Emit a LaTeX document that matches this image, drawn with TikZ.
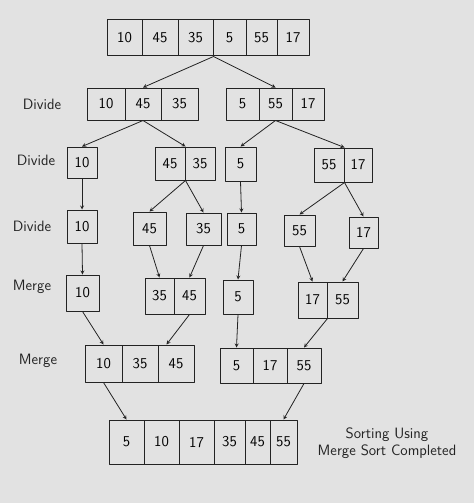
\documentclass[tikz,border=0pt]{standalone}
\usetikzlibrary{calc}
\definecolor{paper}{RGB}{226,226,226}
\definecolor{pen}{RGB}{35,35,35}
\tikzset{
	cell/.style={draw=pen,line width=1pt,inner sep=0pt,font=\fontsize{15}{17}\sffamily},
	lbl/.style={font=\fontsize{15}{17}\sffamily,text=pen},
	arr/.style={->,draw=pen,line width=0.8pt}
}
% one row of cells: name, top, bottom, {left/right/text,...}
\newcommand\cellrow[4]{%
	\foreach \a/\b/\t [count=\i] in {#4}{
		\node[cell,minimum width={(\b-\a)*1pt},minimum height={(#3-#2)*1pt}] (#1-\i) at ({(\a+\b)/2},{(#2+#3)/2}) {\t};
	}
}
\begin{document}
\begin{tikzpicture}[>=stealth,line join=round,line cap=round,x=1pt,y=-1pt]
				\fill[paper] (0,0) rectangle (474,503);
				\useasboundingbox (0,0) rectangle (474,503);
				% whole array
				\cellrow{A0}{20}{56}{107/142/10,142/178/45,178/213/35,213/246/5,246/277/55,277/309/17}
				% divide
				\cellrow{L}{88}{120}{87/125/10,125/161/45,161/198/35}
				\cellrow{R}{88}{120}{226/259/5,259/292/55,292/324/17}
				\cellrow{La}{147}{178}{67/97/10}
				\cellrow{Lb}{147}{180}{155/185/45,185/215/35}
				\cellrow{Ra}{147}{181}{225/256/5}
				\cellrow{Rb}{148}{182}{314/344/55,344/372/17}
				\cellrow{S1}{210}{243}{67/97/10}
				\cellrow{S2}{212}{245}{133/166/45}
				\cellrow{S3}{213}{245}{186/221/35}
				\cellrow{S4}{213}{245}{227/256/5}
				\cellrow{S5}{215}{246}{284/315/55}
				\cellrow{S6}{217}{248}{349/378/17}
				% merge
				\cellrow{M1}{275}{311}{66/99/10}
				\cellrow{M2}{278}{314}{145/174/35,174/205/45}
				\cellrow{M3}{280}{314}{223/253/5}
				\cellrow{M4}{282}{318}{298/327/17,327/358/55}
				\cellrow{ML}{345}{382}{85/122/10,122/158/35,158/194/45}
				\cellrow{MR}{348}{383}{220/253/5,253/287/17,287/321/55}
				\cellrow{F}{420}{464}{109/144/5,144/179/10,179/214/17,214/245/35,245/270/45,270/297/55}
				% arrows
				\draw[arr] (A0-3.south east)--(L-2.north);
				\draw[arr] (A0-3.south east)--(R-2.north);
				\draw[arr] (L-2.south)--(La-1.north);
				\draw[arr] (L-2.south)--(Lb-1.north east);
				\draw[arr] (R-2.south)--(Ra-1.north);
				\draw[arr] (R-2.south)--(Rb-1.north east);
				\draw[arr] (La-1.south)--(S1-1.north);
				\draw[arr] (Lb-1.south east)--(S2-1.north);
				\draw[arr] (Lb-1.south east)--(S3-1.north);
				\draw[arr] (Ra-1.south)--(S4-1.north);
				\draw[arr] (Rb-1.south east)--(S5-1.north);
				\draw[arr] (Rb-1.south east)--(S6-1.north);
				\draw[arr] (S1-1.south)--(M1-1.north);
				\draw[arr] (S2-1.south)--(M2-1.north);
				\draw[arr] (S3-1.south)--(M2-2.north);
				\draw[arr] (S4-1.south)--(M3-1.north);
				\draw[arr] (S5-1.south)--(M4-1.north);
				\draw[arr] (S6-1.south)--(M4-2.north);
				\draw[arr] (M1-1.south)--(ML-1.north);
				\draw[arr] (M2-2.south)--([xshift=9pt]ML-3.north west);
				\draw[arr] (M3-1.south)--(MR-1.north);
				\draw[arr] (M4-1.south east)--(MR-3.north);
				\draw[arr] (ML-1.south)--(F-1.north);
				\draw[arr] (MR-3.south)--(F-6.north);
				% labels
				\node[lbl] (d1) at (42,104) {Divide};
				\node[lbl] (d2) at (36,160) {Divide};
				\node[lbl] (d3) at (32,226) {Divide};
				\node[lbl] (m1) at (32,287) {Merge};
				\node[lbl] (m2) at (38,361) {Merge};
				\node[lbl,align=center] (done) at (387,443) {Sorting Using\\Merge Sort Completed};
			\end{tikzpicture}
\end{document}
